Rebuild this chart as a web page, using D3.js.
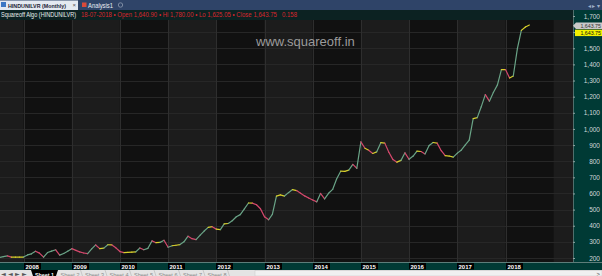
<!DOCTYPE html>
<html>
<head>
<meta charset="utf-8">
<script src="https://cdn.jsdelivr.net/npm/d3@7"></script>
<style>
  body { margin: 0; background: #1a1a1a; overflow: hidden; }
  svg { display: block; font-family: "Liberation Sans", sans-serif; }
</style>
</head>
<body>
<div id="chart"></div>
<script>
// monthly closes, Jul 2007 .. Jul 2018
const startMonth = new Date(2007, 6, 1);
const closes = [
  203, 208, 213, 205, 205, 206,
  206, 219, 226, 242, 230, 205, 234, 243, 251, 218, 228, 242,
  258, 247, 238, 231, 227, 257, 281, 258, 261, 282, 281, 263,
  240, 233, 235, 236, 238, 262, 251, 260, 306, 295, 297, 310,
  267, 276, 279, 283, 300, 335, 320, 314, 342, 367, 390, 394,
  379, 376, 411, 414, 431, 456, 469, 505, 541, 540, 530, 505,
  455, 437, 470, 584, 591, 584, 605, 624, 618, 602, 585, 572,
  560, 548, 600, 566, 601, 625, 690, 738, 737, 745, 780, 756,
  920, 880, 868, 848, 858, 915, 912, 855, 810, 794, 805, 852,
  812, 832, 862, 860, 845, 897, 916, 912, 865, 834, 832, 825,
  850, 870, 900, 930, 1064, 1070, 1137, 1213, 1172, 1226, 1273, 1368,
  1368, 1316, 1328, 1498, 1611, 1632, 1643.75
];
const yTicks = [200, 300, 400, 500, 600, 700, 800, 900, 1000, 1100, 1200, 1300, 1400, 1500, 1600, 1700];
const years = [2008, 2009, 2010, 2011, 2012, 2013, 2014, 2015, 2016, 2017, 2018];
const sheets = ["Sheet 1", "Sheet 2", "Sheet 3", "Sheet 4", "Sheet 5", "Sheet 6", "Sheet 7", "Sheet 8"];
const headerName = "Squareoff Algo (HINDUNILVR)";
const headerQuote = "18-07-2018 \u2022 Open 1,640.90 \u2022 Hi 1,780.00 \u2022 Lo 1,625.05 \u2022 Close 1,643.75   0.158";
const lastClose = 1643.75;

const W = 602, H = 276;
const plot = { left: 0, right: 573, top: 11, bottom: 262 };

const svg = d3.select("#chart").append("svg")
  .attr("width", W)
  .attr("height", H);

const data = closes.map((v, i) => ({ date: d3.timeMonth.offset(startMonth, i), value: v }));

const x = d3.scaleTime()
  .domain([new Date(2008, 0, 1), new Date(2018, 0, 1)])
  .range([23.5, 505.5]);

const y = d3.scaleLinear()
  .domain([200, 1700])
  .range([258, 16]);

// plot background, alternating year bands
svg.append("rect")
  .attr("x", plot.left).attr("y", plot.top)
  .attr("width", plot.right - plot.left).attr("height", plot.bottom - plot.top)
  .attr("fill", "#1c1c1c");

const bandEdges = [new Date(2007, 0, 1)].concat(years.map(d => new Date(d, 0, 1)), [new Date(2019, 0, 1)]);
svg.append("g")
  .selectAll("rect")
  .data(d3.pairs(bandEdges))
  .enter()
  .append("rect")
  .attr("x", d => Math.max(plot.left, x(d[0])))
  .attr("y", plot.top)
  .attr("width", d => Math.min(plot.right, x(d[1])) - Math.max(plot.left, x(d[0])))
  .attr("height", plot.bottom - plot.top)
  .attr("fill", d => d[0].getFullYear() % 2 === 0 ? "#111111" : "#1c1c1c");

// grid
svg.append("g")
  .selectAll("line")
  .data(yTicks)
  .enter()
  .append("line")
  .attr("x1", plot.left).attr("x2", plot.right)
  .attr("y1", d => Math.round(y(d)) + 0.5).attr("y2", d => Math.round(y(d)) + 0.5)
  .attr("stroke", "#272727");

svg.append("g")
  .selectAll("line")
  .data(years)
  .enter()
  .append("line")
  .attr("x1", d => Math.round(x(new Date(d, 0, 1))) + 0.5)
  .attr("x2", d => Math.round(x(new Date(d, 0, 1))) + 0.5)
  .attr("y1", plot.top).attr("y2", plot.bottom)
  .attr("stroke", "#2e2e2e");

// watermark
svg.append("text")
  .attr("x", 256).attr("y", 46)
  .attr("fill", "#9b9b9b")
  .attr("font-size", "13px")
  .text("www.squareoff.in");

// price line, coloured by move
const segColor = (a, b) => {
  const ch = (b - a) / a;
  if (Math.abs(ch) < 0.015) return "#d8cf2a";
  return ch > 0 ? "#6aa487" : "#d4486c";
};
const line = d3.line().x(d => x(d.date)).y(d => y(d.value));

svg.append("clipPath").attr("id", "clip")
  .append("rect")
  .attr("x", plot.left).attr("y", plot.top)
  .attr("width", plot.right - plot.left).attr("height", plot.bottom - plot.top);

svg.append("g")
  .attr("clip-path", "url(#clip)")
  .selectAll("path")
  .data(d3.pairs(data))
  .enter()
  .append("path")
  .attr("d", d => line(d))
  .attr("fill", "none")
  .attr("stroke-width", 1.2)
  .attr("stroke-linecap", "round")
  .attr("stroke", d => segColor(d[0].value, d[1].value));

// header row
svg.append("rect")
  .attr("x", 0).attr("y", 10).attr("width", plot.right).attr("height", 10)
  .attr("fill", "#0c2222");
svg.append("text")
  .attr("x", 1).attr("y", 17.3)
  .attr("fill", "#e8eeee")
  .attr("font-size", "6.5px")
  .attr("textLength", 75)
  .attr("lengthAdjust", "spacingAndGlyphs")
  .text(headerName);
svg.append("text")
  .attr("x", 81).attr("y", 17.3)
  .attr("fill", "#d8262e")
  .attr("font-size", "6.5px")
  .attr("xml:space", "preserve")
  .attr("textLength", 216)
  .attr("lengthAdjust", "spacingAndGlyphs")
  .text(headerQuote);

// right axis panel
svg.append("rect")
  .attr("x", plot.right).attr("y", 10).attr("width", W - plot.right).attr("height", plot.bottom - 10)
  .attr("fill", "#003a35");
svg.append("line")
  .attr("x1", plot.right + 0.5).attr("x2", plot.right + 0.5)
  .attr("y1", 10).attr("y2", plot.bottom)
  .attr("stroke", "#4f6f6c");

const tagY = y(lastClose) + 0.6;

const yAxis = svg.append("g")
  .attr("transform", `translate(${plot.right},0)`)
  .call(d3.axisRight(y).tickValues(yTicks).tickSize(2).tickFormat(d3.format(",")));
yAxis.select(".domain").remove();
yAxis.selectAll("line").attr("stroke", "#8fa5a3");
yAxis.selectAll("text")
  .attr("x", 27)
  .attr("text-anchor", "end")
  .attr("fill", "#d0d8d8")
  .attr("font-size", "6.5px")
  .attr("font-family", "Liberation Sans, sans-serif");
// labels hidden under the last-price tags
yAxis.selectAll(".tick")
  .filter(d => y(d) > tagY - 4 && y(d) < tagY + 14)
  .select("text").remove();

// last price tags
svg.append("path")
  .attr("d", `M${plot.right},${tagY} L${plot.right + 3},${tagY - 3.2} L${W},${tagY - 3.2} L${W},${tagY + 3.2} L${plot.right + 3},${tagY + 3.2} Z`)
  .attr("fill", "#c9c9c9");
svg.append("text")
  .attr("x", 601).attr("y", tagY + 1.9)
  .attr("text-anchor", "end")
  .attr("fill", "#333")
  .attr("font-size", "5.3px")
  .text(d3.format(",.2f")(lastClose));
svg.append("rect")
  .attr("x", plot.right + 2).attr("y", tagY + 4).attr("width", W - plot.right - 2).attr("height", 6.4)
  .attr("fill", "#f2f200");
svg.append("text")
  .attr("x", 601).attr("y", tagY + 9.2)
  .attr("text-anchor", "end")
  .attr("fill", "#111")
  .attr("font-size", "5.3px")
  .text(d3.format(",.2f")(lastClose));

// bottom time axis strip
svg.append("rect")
  .attr("x", 0).attr("y", plot.bottom).attr("width", W).attr("height", 8)
  .attr("fill", "#003a35");
svg.append("line")
  .attr("x1", 0).attr("x2", W)
  .attr("y1", plot.bottom + 0.5).attr("y2", plot.bottom + 0.5)
  .attr("stroke", "#5d7d7a");

const yearLabels = svg.append("g")
  .selectAll("g")
  .data(years)
  .enter()
  .append("g")
  .attr("transform", d => `translate(${Math.round(x(new Date(d, 0, 1)))},${plot.bottom + 1})`);
yearLabels.append("rect")
  .attr("width", 17).attr("height", 6.5)
  .attr("fill", "#000");
yearLabels.append("text")
  .attr("x", 1.5).attr("y", 5.6)
  .attr("fill", "#fff")
  .attr("font-size", "6px")
  .attr("font-weight", "bold")
  .text(d => d);

// top tab bar
svg.append("rect")
  .attr("x", 0).attr("y", 0).attr("width", W).attr("height", 10)
  .attr("fill", "#2f4468");
svg.append("rect")
  .attr("x", 0).attr("y", 0.5).attr("width", 78).attr("height", 9.5)
  .attr("fill", "#e4e9f1");
svg.append("rect")
  .attr("x", 1).attr("y", 2).attr("width", 5).attr("height", 5)
  .attr("fill", "#3d77c4");
svg.append("text")
  .attr("x", 8).attr("y", 7.6)
  .attr("fill", "#1b2233")
  .attr("font-size", "5.6px")
  .attr("font-weight", "bold")
  .attr("textLength", 58)
  .attr("lengthAdjust", "spacingAndGlyphs")
  .text("HINDUNILVR (Monthly)");
svg.append("text")
  .attr("x", 72.5).attr("y", 7.4)
  .attr("fill", "#555")
  .attr("font-size", "6px")
  .text("\u00d7");
svg.append("rect")
  .attr("x", 82).attr("y", 2.5).attr("width", 4.5).attr("height", 4.5)
  .attr("fill", "#d94a3a");
svg.append("text")
  .attr("x", 88).attr("y", 7.6)
  .attr("fill", "#e8ecf4")
  .attr("font-size", "6.5px")
  .attr("textLength", 25)
  .attr("lengthAdjust", "spacingAndGlyphs")
  .text("Analysis1");
svg.append("circle")
  .attr("cx", 120.5).attr("cy", 5).attr("r", 2.2)
  .attr("fill", "none").attr("stroke", "#7d8ba3");
svg.append("text")
  .attr("x", 600).attr("y", 7.5)
  .attr("text-anchor", "end")
  .attr("fill", "#9fb0c8")
  .attr("font-size", "5.5px")
  .text("\u25c2 \u25b8 \u25be");

// sheet tab bar
svg.append("rect")
  .attr("x", 0).attr("y", 270).attr("width", W).attr("height", 6)
  .attr("fill", "#e4e4e4");
svg.append("rect")
  .attr("x", 255).attr("y", 270.5).attr("width", W - 255).attr("height", 5.5)
  .attr("fill", "#f0f0f0").attr("stroke", "#c8c8c8").attr("stroke-width", 0.5);
svg.append("text")
  .attr("x", 1).attr("y", 276)
  .attr("fill", "#555")
  .attr("font-size", "5.5px")
  .attr("textLength", 26)
  .attr("lengthAdjust", "spacingAndGlyphs")
  .text("\u25c2 \u25c2 \u25b8 \u25b8");
const sheetTabs = svg.append("g")
  .selectAll("g")
  .data(sheets)
  .enter()
  .append("g")
  .attr("transform", (d, i) => `translate(${i === 0 ? 31 : 34 + i * 24.5},270)`);
sheetTabs.filter((d, i) => i === 0)
  .append("path")
  .attr("d", "M0,0 L27,0 L25,6 L2,6 Z")
  .attr("fill", "#000");
sheetTabs.append("text")
  .attr("x", (d, i) => i === 0 ? 4 : 2)
  .attr("y", 6.5)
  .attr("fill", (d, i) => i === 0 ? "#fff" : "#8a8a8a")
  .attr("font-size", "6px")
  .attr("font-weight", (d, i) => i === 0 ? "bold" : "normal")
  .attr("textLength", 19)
  .attr("lengthAdjust", "spacingAndGlyphs")
  .text(d => d);
sheetTabs.filter((d, i) => i > 0)
  .append("line")
  .attr("x1", 22).attr("x2", 24).attr("y1", 0).attr("y2", 6)
  .attr("stroke", "#aaa").attr("stroke-width", 0.5);
svg.append("text")
  .attr("x", 600).attr("y", 275.5)
  .attr("text-anchor", "end")
  .attr("fill", "#444")
  .attr("font-size", "6px")
  .text(">");
</script>
</body>
</html>
